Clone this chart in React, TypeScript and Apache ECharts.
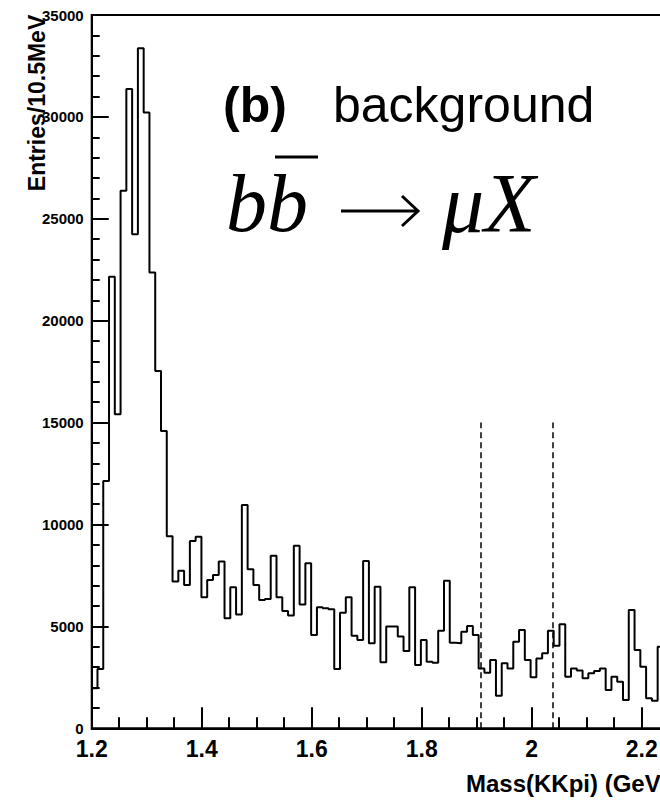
import React, { useEffect, useRef } from "react";
import * as echarts from "echarts";

// Histogram: 100 bins of 10.5 MeV starting at 1.2 GeV
const BIN_LOW = 1.2;
const BIN_WIDTH = 0.0105;
const COUNTS = [
  1960, 2910, 12130, 22160, 15410, 26380, 31370, 24240, 33370, 30220,
  22370, 17530, 14590, 9420, 7200, 7730, 7030, 9190, 9400, 6430,
  7280, 7520, 8180, 5400, 6920, 5580, 10960, 7800, 7030, 6300,
  6340, 8470, 6430, 5760, 5530, 8960, 6080, 8100, 4580, 5935,
  5890, 5840, 2910, 5670, 6430, 4540, 4330, 8210, 4170, 6950,
  3240, 4990, 4990, 4500, 3790, 6920, 3110, 4330, 3270, 3220,
  4790, 7240, 4200, 4170, 4740, 5020, 4580, 2940, 2730, 3350,
  1600, 3190, 2940, 4250, 4820, 3350, 2500, 3430, 3680, 4790,
  4050, 5100, 2530, 2940, 2830, 2450, 2700, 2810, 2940, 1880,
  2530, 2290, 1390, 5800, 3840, 3020, 1470, 1350, 4000, 3800,
];

// Signal window (dashed lines)
const WINDOW_EDGES = [1.908, 2.039];
const WINDOW_TOP = 15000;

// Axes
const X_MIN = 1.2;
const X_MAX = 2.4;
const X_INTERVAL = 0.2;
const X_LAST_LABEL = 2.2;
const Y_MIN = 0;
const Y_MAX = 35000;
const Y_INTERVAL = 5000;

const TITLE_TAG = "(b)";
const TITLE_TEXT = "background";
const Y_TITLE = "Entries/10.5MeV";
const X_TITLE = "Mass(KKpi) (GeV";

export default function App() {
  const ref = useRef<HTMLDivElement>(null);

  useEffect(() => {
    if (!ref.current) return;
    const chart = echarts.init(ref.current, undefined, { renderer: "svg" });

    const stepData: [number, number][] = COUNTS.map((c, i) => [
      BIN_LOW + i * BIN_WIDTH,
      c,
    ]);
    stepData.push([BIN_LOW + COUNTS.length * BIN_WIDTH, COUNTS[COUNTS.length - 1]]);

    const black = "#000";
    const sans = "Liberation Sans, Arial, sans-serif";
    const serif = "Liberation Serif, Times New Roman, serif";

    chart.setOption({
      animation: false,
      backgroundColor: "#fff",
      grid: {
        left: 91.7,
        top: 15,
        width: 660,
        height: 713.3,
        show: true,
        borderColor: black,
        borderWidth: 2,
        containLabel: false,
        outerBoundsMode: "none",
      },
      xAxis: {
        type: "value",
        min: X_MIN,
        max: X_MAX,
        interval: X_INTERVAL,
        axisLine: { show: true, lineStyle: { color: black, width: 2 } },
        axisTick: { show: true, inside: true, length: 21, lineStyle: { color: black, width: 2 } },
        minorTick: { show: true, splitNumber: 4, length: 11, lineStyle: { color: black, width: 2 } },
        splitLine: { show: false },
        minorSplitLine: { show: false },
        axisLabel: {
          color: black,
          fontFamily: sans,
          fontWeight: "bold",
          fontSize: 23,
          margin: 9,
          showMaxLabel: false,
          formatter: (v: number) => (v > X_LAST_LABEL + 1e-6 ? "" : String(+v.toFixed(1))),
        },
      },
      yAxis: {
        type: "value",
        min: Y_MIN,
        max: Y_MAX,
        interval: Y_INTERVAL,
        axisLine: { show: true, lineStyle: { color: black, width: 2 } },
        axisTick: { show: true, inside: true, length: 17, lineStyle: { color: black, width: 2 } },
        minorTick: { show: true, splitNumber: 5, length: 8, lineStyle: { color: black, width: 2 } },
        splitLine: { show: false },
        minorSplitLine: { show: false },
        axisLabel: {
          color: black,
          fontFamily: sans,
          fontWeight: "bold",
          fontSize: 15,
          margin: 8,
          formatter: (v: number) => String(Math.round(v)),
        },
      },
      series: [
        {
          type: "line",
          step: "end",
          data: stepData,
          showSymbol: false,
          symbol: "none",
          lineStyle: { color: black, width: 2 },
          silent: true,
          z: 3,
          markLine: {
            symbol: "none",
            silent: true,
            label: { show: false },
            lineStyle: { type: [6, 4], color: black, width: 1.5 },
            data: WINDOW_EDGES.map((x) => [
              { coord: [x, 0] },
              { coord: [x, WINDOW_TOP] },
            ]),
          },
        },
      ],
      graphic: [
        {
          type: "text",
          x: 223,
          y: 104.7,
          style: {
            text: TITLE_TAG,
            fontFamily: sans,
            fontWeight: "bold",
            fontSize: 50,
            fill: black,
            textAlign: "left",
            textVerticalAlign: "middle",
          },
        },
        {
          type: "text",
          x: 333,
          y: 104.7,
          style: {
            text: TITLE_TEXT,
            fontFamily: sans,
            fontSize: 50,
            fill: black,
            textAlign: "left",
            textVerticalAlign: "middle",
          },
        },
        {
          type: "text",
          x: 226,
          y: 203,
          style: {
            text: "bb",
            fontFamily: serif,
            fontStyle: "italic",
            fontSize: 82,
            fill: black,
            textAlign: "left",
            textVerticalAlign: "middle",
          },
        },
        {
          type: "line",
          shape: { x1: 275, y1: 157, x2: 318, y2: 157 },
          style: { stroke: black, lineWidth: 3 },
        },
        {
          type: "line",
          shape: { x1: 341, y1: 211, x2: 416, y2: 211 },
          style: { stroke: black, lineWidth: 3 },
        },
        {
          type: "polyline",
          shape: { points: [[402, 196], [418, 211], [402, 226]] },
          style: { stroke: black, lineWidth: 3, fill: null },
        },
        {
          type: "text",
          x: 442,
          y: 203,
          style: {
            text: "μX",
            fontFamily: serif,
            fontStyle: "italic",
            fontSize: 84,
            fill: black,
            textAlign: "left",
            textVerticalAlign: "middle",
          },
        },
        {
          type: "text",
          x: 36.5,
          y: 103,
          rotation: Math.PI / 2,
          style: {
            text: Y_TITLE,
            fontFamily: sans,
            fontWeight: "bold",
            fontSize: 23,
            fill: black,
            textAlign: "center",
            textVerticalAlign: "middle",
          },
        },
        {
          type: "text",
          x: 466,
          y: 783.5,
          style: {
            text: X_TITLE,
            fontFamily: sans,
            fontWeight: "bold",
            fontSize: 24,
            fill: black,
            textAlign: "left",
            textVerticalAlign: "middle",
          },
        },
      ],
    });

    return () => chart.dispose();
  }, []);

  return (
    <div
      ref={ref}
      style={{ position: "absolute", left: 0, top: 0, width: 660, height: 804 }}
    />
  );
}
